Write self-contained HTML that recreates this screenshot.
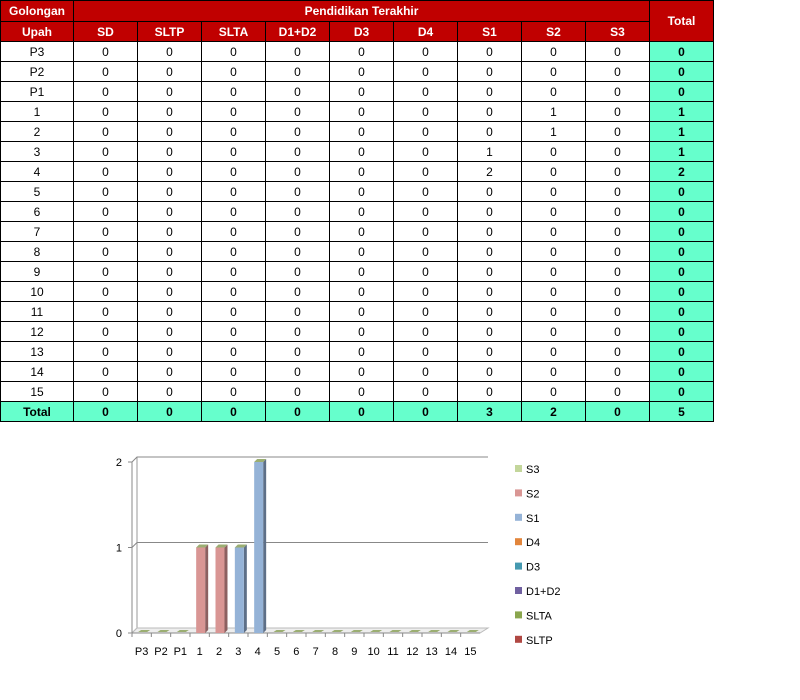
<!DOCTYPE html>
<html><head><meta charset="utf-8">
<style>
body{margin:0;width:800px;height:700px;background:#fff;font-family:"Liberation Sans",sans-serif;position:relative;overflow:hidden}
table{position:absolute;left:0;top:0;border-collapse:collapse;table-layout:fixed;font-size:12px}
td{border:1px solid #000;height:19px;padding:0;text-align:center;color:#000}
td.h{background:#c00000;color:#fff;font-weight:bold;height:19px}
tr.h1 td.h{height:20px}
td.g{background:#66ffcc;font-weight:bold}
tr.tot td{background:#66ffcc;font-weight:bold}
svg{position:absolute;left:0;top:0}
svg text{font-family:"Liberation Sans",sans-serif;font-size:11px;fill:#000}
</style></head><body>
<table id="tbl">
<colgroup><col style="width:73px"><col style="width:64px"><col style="width:64px"><col style="width:64px"><col style="width:64px"><col style="width:64px"><col style="width:64px"><col style="width:64px"><col style="width:64px"><col style="width:64px"><col style="width:64px"></colgroup>
</table>
<svg id="chart" width="800" height="700"></svg>
<script>
const categories=["P3","P2","P1","1","2","3","4","5","6","7","8","9","10","11","12","13","14","15"];
const seriesNames=["SD","SLTP","SLTA","D1+D2","D3","D4","S1","S2","S3"];
const valS1=[0,0,0,0,0,1,2,0,0,0,0,0,0,0,0,0,0,0];
const valS2=[0,0,0,1,1,0,0,0,0,0,0,0,0,0,0,0,0,0];
const yTicks=[0,1,2];
const legendNames=["S3","S2","S1","D4","D3","D1+D2","SLTA","SLTP"];
const legendColors=["#c3d69b","#d99694","#95b3d7","#e2853b","#4599b0","#7060a0","#8aa64e","#b04843"];

const tbl=document.getElementById('tbl');
let tr=document.createElement('tr');tr.className='h1';
tr.innerHTML='<td class="h">Golongan</td><td class="h" colspan="9">Pendidikan Terakhir</td><td class="h" rowspan="2">Total</td>';
tbl.appendChild(tr);
tr=document.createElement('tr');
let s='<td class="h">Upah</td>';
seriesNames.forEach(n=>s+='<td class="h">'+n+'</td>');
tr.innerHTML=s;tbl.appendChild(tr);
const colTotals=new Array(9).fill(0);
categories.forEach((c,i)=>{
  const row=document.createElement('tr');
  
  
  const vals=seriesNames.map(n=>n==="S1"?valS1[i]:n==="S2"?valS2[i]:0);
  vals.forEach((v,j)=>colTotals[j]+=v);
  let h='<td>'+c+'</td>';
  vals.forEach(v=>h+='<td>'+v+'</td>');
  h+='<td class="g">'+vals.reduce((a,b)=>a+b,0)+'</td>';
  row.innerHTML=h;tbl.appendChild(row);
});
tr=document.createElement('tr');tr.className='tot';


s='<td>Total</td>';colTotals.forEach(v=>s+='<td>'+v+'</td>');
s+='<td>'+colTotals.reduce((a,b)=>a+b,0)+'</td>';
tr.innerHTML=s;tbl.appendChild(tr);

const svg=document.getElementById('chart');
const NS='http://www.w3.org/2000/svg';
function el(t,a){const e=document.createElementNS(NS,t);for(const k in a)e.setAttribute(k,a[k]);svg.appendChild(e);return e;}
const x0=132,x1=480,yBase=633,yMax=2,plotH=171,dx=5,dy=5;
const y=v=>yBase-v/yMax*plotH;
const step=(x1-x0)/categories.length;
const xc=i=>x0+step*(i+0.5);
let e=el('polyline',{points:`${x0},${yBase} ${x0+dx},${yBase-dy} ${x0+dx},${y(2)-dy}`,fill:'none',stroke:'#999'});

yTicks.forEach(t=>{
  const g=el('polyline',{points:`${x0},${y(t)} ${x0+dx},${y(t)-dy} ${x1+8},${y(t)-dy}`,fill:'none',stroke:t?'#888':'#bbb'});
  
  const tx=el('text',{x:x0-10,y:y(t)+4,'text-anchor':'end'});tx.textContent=t;
  
  el('line',{x1:x0-4,y1:y(t),x2:x0,y2:y(t),stroke:'#888'});
});
e=el('polygon',{points:`${x0},${yBase} ${x1},${yBase} ${x1+8},${yBase-dy} ${x0+dx},${yBase-dy}`,fill:'#eee',stroke:'#bbb'});

el('line',{x1:x0,y1:y(2),x2:x0,y2:yBase,stroke:'#888'});
el('line',{x1:x0,y1:yBase,x2:x1,y2:yBase,stroke:'#888'});
categories.forEach((c,i)=>{
  el('line',{x1:x0+step*i,y1:yBase,x2:x0+step*i,y2:yBase+4,stroke:'#888'});
  const t=el('text',{x:xc(i),y:yBase+22,'text-anchor':'middle'});t.textContent=c;
  
  const v=valS1[i]+valS2[i];
  const col=valS1[i]?'#95b3d7':valS2[i]?'#d99694':null;
  const bw=9,bx=xc(i)-bw/2+1;
  if(v>0){
    const top=y(v);
    const side=el('polygon',{points:`${bx+bw},${top} ${bx+bw+3},${top-3} ${bx+bw+3},${yBase-3} ${bx+bw},${yBase}`,fill:valS1[i]?'#5d6f87':'#8c6060'});
    
    const b=el('rect',{x:bx,y:top,width:bw,height:yBase-top,fill:col});
    
    el('polygon',{points:`${bx},${top} ${bx+3},${top-3} ${bx+bw+3},${top-3} ${bx+bw},${top}`,fill:'#9bae72'});
  } else {
    const z=el('polygon',{points:`${bx},${yBase-1} ${bx+3},${yBase-3} ${bx+bw+3},${yBase-3} ${bx+bw},${yBase-1}`,fill:'#9bae72'});
    
  }
});
legendNames.forEach((n,i)=>{
  const ly=469+i*24.4;
  const r=el('rect',{x:515,y:ly-4,width:7,height:7,fill:legendColors[i]});
  
  const t=el('text',{x:526,y:ly+4});t.textContent=n;
  
});
</script>
</body></html>
